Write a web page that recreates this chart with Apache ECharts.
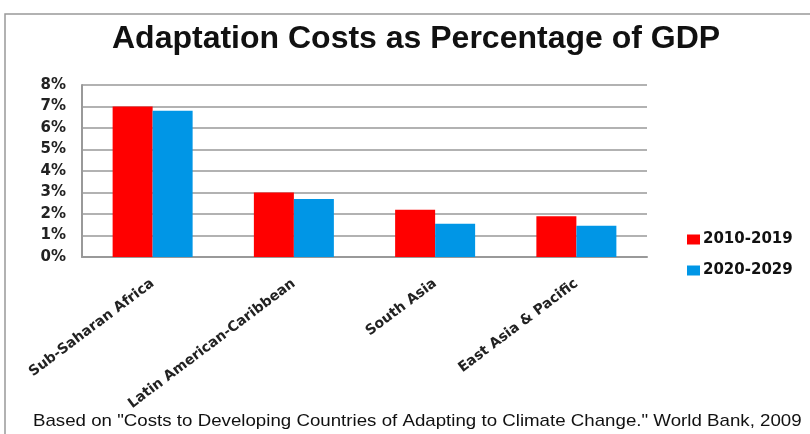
<!DOCTYPE html>
<html><head><meta charset="utf-8">
<script src="https://cdn.jsdelivr.net/npm/echarts@6/dist/echarts.min.js"></script>
<style>html,body{margin:0;padding:0;background:#fff}#c{width:810px;height:434px}</style>
</head><body><div id="c"></div>
<script>
const categories = ['Sub-Saharan Africa', 'Latin American-Caribbean', 'South Asia', 'East Asia & Pacific'];
const series2010 = [7.0, 3.0, 2.2, 1.9];
const series2020 = [6.8, 2.7, 1.55, 1.45];
const seriesNames = ['2010-2019', '2020-2029'];
const yTicks = [0, 1, 2, 3, 4, 5, 6, 7, 8];

const chart = echarts.init(document.getElementById('c'));
chart.setOption({
  backgroundColor: '#fff',
  animation: false,
  title: {
    text: 'Adaptation Costs as Percentage of GDP',
    left: 107, top: 18,
    textStyle: { fontFamily: 'Liberation Sans', fontSize: 32, fontWeight: 'bold', color: '#111' }
  },
  graphic: [
    { type: 'rect', shape: { x: 5, y: 14, width: 820, height: 440 }, style: { fill: 'none', stroke: '#999', lineWidth: 1.5 } },
    { type: 'text', left: 33, top: 413, style: { text: 'Based on "Costs to Developing Countries of Adapting to Climate Change." World Bank, 2009', font: '17px "Liberation Sans"', fill: '#111' }, scaleX: 1.1 }
  ],
  legend: {
    orient: 'vertical', left: 682, top: 227, itemGap: 16,
    itemWidth: 13, itemHeight: 10, icon: 'rect',
    data: seriesNames,
    textStyle: { fontFamily: 'DejaVu Sans', fontSize: 15, fontWeight: 'bold', color: '#111', padding: [0, 0, 0, -2] }
  },
  grid: { left: 82, right: 163, top: 85, bottom: 177, containLabel: false },
  xAxis: {
    type: 'category', data: categories,
    axisLine: { lineStyle: { color: '#999', width: 2 } },
    axisTick: { show: false },
    axisLabel: { rotate: 37, margin: 25, interval: 0, fontFamily: 'DejaVu Sans', fontSize: 14, fontWeight: 'bold', color: '#222' }
  },
  yAxis: {
    type: 'value', min: 0, max: 8, interval: 1,
    axisLine: { show: true, lineStyle: { color: '#999', width: 2 } },
    axisTick: { show: false },
    splitLine: { lineStyle: { color: '#999', width: 1.5 } },
    axisLabel: { formatter: v => yTicks.includes(v) ? v + '%' : '', margin: 16, fontFamily: 'DejaVu Sans', fontSize: 15, fontWeight: 'bold', color: '#222' }
  },
  series: [
    { name: seriesNames[0], type: 'bar', data: series2010, barWidth: 40, barGap: '0%', itemStyle: { color: '#ff0000' } },
    { name: seriesNames[1], type: 'bar', data: series2020, barWidth: 40, barGap: '0%', itemStyle: { color: '#0096e6' } }
  ]
});
</script></body></html>
